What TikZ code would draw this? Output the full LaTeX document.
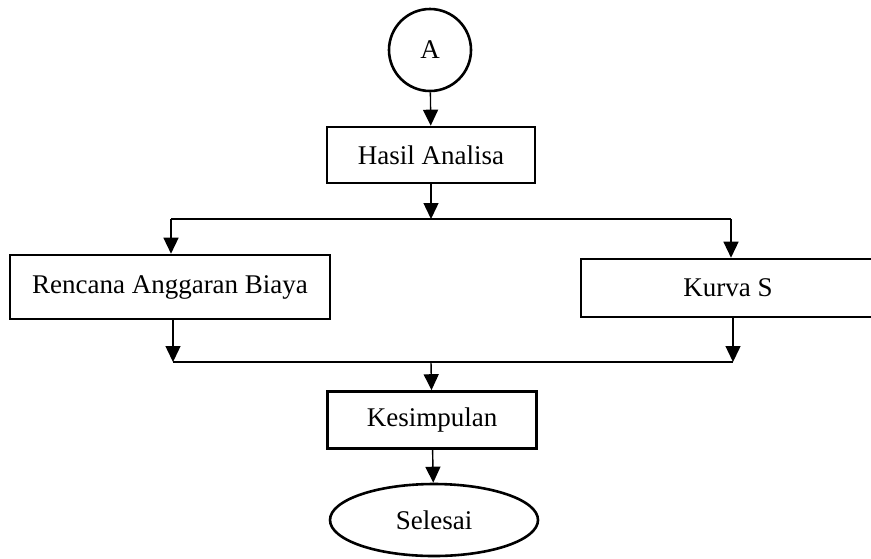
\documentclass[tikz,border=0pt]{standalone}
\usepackage{fontspec}
\setmainfont{Liberation Serif}
\usetikzlibrary{arrows.meta, shapes.geometric}
\tikzset{
  txt/.style  ={font=\fontsize{13.5}{16}\selectfont},
  proc/.style ={draw, rectangle, line width=1.3pt, inner sep=0pt, txt},
  term/.style ={draw, ellipse, line width=1.3pt, inner sep=0pt, txt},
  conn/.style ={line width=0.7pt},
  arr/.style  ={-{Triangle[length=8pt, width=7.5pt]}, line width=0.7pt},
}
\begin{document}
\begin{tikzpicture}[x=0.5pt, y=-0.5pt]
  \useasboundingbox (0,0) rectangle (871,558);
  % ---- top: connector A and first step
  \node[draw, circle, line width=1.3pt, minimum size=41pt, inner sep=0pt, txt]
    (A) at (430,50) {A};
  \node[proc, minimum width=104pt, minimum height=28pt] (hasil) at (431,155) {Hasil Analisa};
  % ---- split into two branches
  \coordinate (split)  at (431,219);
  \coordinate (splitL) at (171,219);
  \coordinate (splitR) at (731,219);
  \node[proc, minimum width=160pt, minimum height=32pt] (rab)   at (170,287) {Rencana Anggaran Biaya};
  \node[proc, minimum width=147pt, minimum height=29pt] (kurva) at (728,288) {Kurva S};
  % ---- join again
  \coordinate (joinL) at (173,362);
  \coordinate (joinR) at (733,362);
  \coordinate (join)  at (431,362);
  \node[proc, minimum width=104.5pt, minimum height=28.5pt] (kes) at (432,420) {Kesimpulan};
  \node[term, minimum width=104pt, minimum height=36pt] (selesai) at (434,520) {Selesai};
  % ---- connectors
  \draw[arr]  (A) -- (hasil);
  \draw[arr]  (hasil) -- (split);
  \draw[conn] (splitL) -- (splitR);
  \draw[arr]  (splitL) -- (splitL |- rab.north);
  \draw[arr]  (splitR) -- (splitR |- kurva.north);
  \draw[arr]  (joinL |- rab.south) -- (joinL);
  \draw[arr]  (joinR |- kurva.south) -- (joinR);
  \draw[conn] (joinL) -- (joinR);
  \draw[arr]  (join) -- (kes);
  \draw[arr]  (kes) -- (selesai);
\end{tikzpicture}
\end{document}
